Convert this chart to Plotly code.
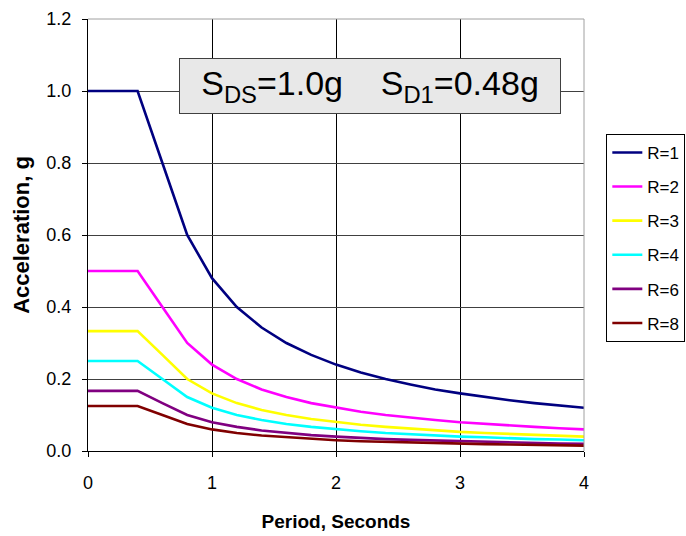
import plotly.graph_objects as go

period = [0.0, 0.2, 0.4, 0.6, 0.8, 1.0, 1.2, 1.4, 1.6, 1.8, 2.0, 2.2, 2.4, 2.6, 2.8, 3.0, 3.2, 3.4, 3.6, 3.8, 4.0]
r1 = [1.0, 1.0, 1.0, 0.8, 0.6, 0.48, 0.4, 0.343, 0.3, 0.267, 0.24, 0.218, 0.2, 0.185, 0.171, 0.16, 0.15, 0.141, 0.133, 0.126, 0.12]
r2 = [0.5, 0.5, 0.5, 0.4, 0.3, 0.24, 0.2, 0.171, 0.15, 0.133, 0.12, 0.109, 0.1, 0.092, 0.086, 0.08, 0.075, 0.071, 0.067, 0.063, 0.06]
r3 = [0.333, 0.333, 0.333, 0.267, 0.2, 0.16, 0.133, 0.114, 0.1, 0.089, 0.08, 0.073, 0.067, 0.062, 0.057, 0.053, 0.05, 0.047, 0.044, 0.042, 0.04]
r4 = [0.25, 0.25, 0.25, 0.2, 0.15, 0.12, 0.1, 0.086, 0.075, 0.067, 0.06, 0.055, 0.05, 0.046, 0.043, 0.04, 0.038, 0.035, 0.033, 0.032, 0.03]
r6 = [0.167, 0.167, 0.167, 0.133, 0.1, 0.08, 0.067, 0.057, 0.05, 0.044, 0.04, 0.036, 0.033, 0.031, 0.029, 0.027, 0.025, 0.024, 0.022, 0.021, 0.02]
r8 = [0.125, 0.125, 0.125, 0.1, 0.075, 0.06, 0.05, 0.043, 0.038, 0.033, 0.03, 0.027, 0.025, 0.023, 0.021, 0.02, 0.019, 0.018, 0.017, 0.016, 0.015]

series_names = ["R=1", "R=2", "R=3", "R=4", "R=6", "R=8"]
series_values = [r1, r2, r3, r4, r6, r8]
series_colors = ["#000080", "#FF00FF", "#FFFF00", "#00FFFF", "#800080", "#800000"]

x_ticks = [0, 1, 2, 3, 4]
y_ticks = [0.0, 0.2, 0.4, 0.6, 0.8, 1.0, 1.2]
y_tick_labels = ["0.0", "0.2", "0.4", "0.6", "0.8", "1.0", "1.2"]

FONT = "Liberation Sans, Arial, sans-serif"

fig = go.Figure()
for name, vals, col in zip(series_names, series_values, series_colors):
    fig.add_trace(go.Scatter(x=period, y=vals, mode="lines", name=name,
                             legendgroup=name,
                             line=dict(color=col, width=2.6)))

fig.update_layout(
    width=686, height=536,
    margin=dict(l=88, r=102, t=19, b=85, autoexpand=False),
    paper_bgcolor="white", plot_bgcolor="white",
    font=dict(family=FONT, color="black", size=18),
    showlegend=True,
    legend=dict(x=1.045, y=0.734, xanchor="left", yanchor="top",
                bordercolor="black", borderwidth=1, bgcolor="white",
                font=dict(family=FONT, size=17, color="black"),
                traceorder="grouped", tracegroupgap=9,
                itemwidth=30),
    xaxis=dict(range=[0, 4], tickvals=x_ticks, ticktext=[str(v) for v in x_ticks],
               showgrid=True, gridcolor="black", gridwidth=1,
               showline=True, linecolor="black", linewidth=1,
               ticks="outside", ticklen=5, tickcolor="black",
               ticklabelstandoff=10,
               zeroline=False,
               title=dict(text="<b>Period, Seconds</b>", font=dict(size=19), standoff=23)),
    yaxis=dict(range=[0, 1.2], tickvals=y_ticks, ticktext=y_tick_labels,
               showgrid=True, gridcolor="#404040", gridwidth=1,
               showline=True, linecolor="black", linewidth=1,
               ticks="outside", ticklen=5, tickcolor="black",
               ticklabelstandoff=7,
               zeroline=False,
               title=dict(text="<b>Acceleration, g</b>", font=dict(size=22), standoff=10)),
)

# gray frame on top and right edges
fig.add_shape(type="line", xref="paper", yref="paper", x0=0, x1=1, y0=1, y1=1,
              line=dict(color="#a0a0a0", width=1))
fig.add_shape(type="line", xref="paper", yref="paper", x0=1, x1=1, y0=0, y1=1,
              line=dict(color="#a0a0a0", width=1))

fig.add_annotation(
    x=2.272, y=1.013, xref="x", yref="y", showarrow=False,
    text="S<sub>DS</sub>=1.0g&nbsp;&nbsp;&nbsp;&nbsp;S<sub>D1</sub>=0.48g",
    font=dict(family=FONT, size=34, color="black"),
    bgcolor="#E8E8E8", bordercolor="#404040", borderwidth=1, borderpad=5,
    width=370, height=44, align="center",
)

fig.write_html("out.html", config={"displayModeBar": False},
               post_script="document.body.style.margin='0';document.body.style.overflow='hidden';")
